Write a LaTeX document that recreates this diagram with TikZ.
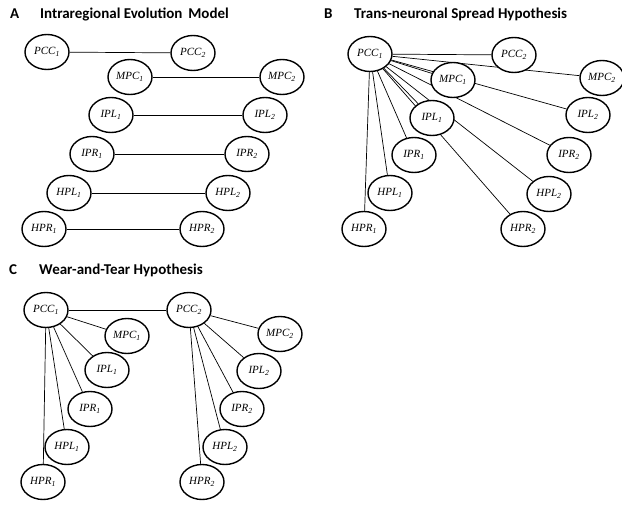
\documentclass[tikz,border=0pt]{standalone}
\usepackage{fontspec}
\setmainfont{Liberation Serif}
\newfontfamily\titlefont{Carlito}
\usetikzlibrary{shapes.geometric}
\usetikzlibrary{backgrounds}
\newcommand{\rname}[2]{\textit{#1}\textsubscript{\textit{#2}}}
\newcommand{\panelletter}[1]{\makebox[30pt][l]{#1}}
\tikzset{
  region/.style={ellipse, draw, line width=1.4pt, fill=white, inner sep=0pt,
    minimum width=44pt, minimum height=35pt, font=\fontsize{11}{13}\selectfont},
  link/.style={line width=0.7pt},
  paneltitle/.style={anchor=west, inner sep=0pt, font=\titlefont\bfseries\fontsize{15}{17}\selectfont}
}

\begin{document}
\begin{tikzpicture}[x=1pt, y=-1pt]
      \useasboundingbox (0,0) rectangle (622,506);

      % A
      \node[paneltitle] (titleA) at (10,14) {\panelletter{A}Intraregional Evolution\, Model};
      \node[region] (aPCC1) at (47,52) {\rname{PCC}{1}};
      \node[region] (aPCC2) at (193,53) {\rname{PCC}{2}};
      \node[region] (aMPC1) at (130,77) {\rname{MPC}{1}};
      \node[region] (aMPC2) at (282,77) {\rname{MPC}{2}};
      \node[region] (aIPL1) at (111,115) {\rname{IPL}{1}};
      \node[region] (aIPL2) at (265,115) {\rname{IPL}{2}};
      \node[region] (aIPR1) at (92,154) {\rname{IPR}{1}};
      \node[region] (aIPR2) at (247,154) {\rname{IPR}{2}};
      \node[region] (aHPL1) at (69,193) {\rname{HPL}{1}};
      \node[region] (aHPL2) at (228,193) {\rname{HPL}{2}};
      \node[region] (aHPR1) at (44,229) {\rname{HPR}{1}};
      \node[region] (aHPR2) at (202,229) {\rname{HPR}{2}};

      \begin{scope}[on background layer]
        \draw[link] (aPCC1) -- (aPCC2);
        \draw[link] (aMPC1) -- (aMPC2);
        \draw[link] (aIPL1) -- (aIPL2);
        \draw[link] (aIPR1) -- (aIPR2);
        \draw[link] (aHPL1) -- (aHPL2);
        \draw[link] (aHPR1) -- (aHPR2);
      \end{scope}

      % B
      \node[paneltitle] (titleB) at (324,14) {\panelletter{B}Trans-neuronal Spread Hypothesis};
      \node[region] (bPCC1) at (370,54) {\rname{PCC}{1}};
      \node[region] (bPCC2) at (514,55) {\rname{PCC}{2}};
      \node[region] (bMPC1) at (453,80) {\rname{MPC}{1}};
      \node[region] (bMPC2) at (602,78) {\rname{MPC}{2}};
      \node[region] (bIPL1) at (432,118) {\rname{IPL}{1}};
      \node[region] (bIPL2) at (588,115) {\rname{IPL}{2}};
      \node[region] (bIPR1) at (414,155) {\rname{IPR}{1}};
      \node[region] (bIPR2) at (569,155) {\rname{IPR}{2}};
      \node[region] (bHPL1) at (390,193) {\rname{HPL}{1}};
      \node[region] (bHPL2) at (549,194) {\rname{HPL}{2}};
      \node[region] (bHPR1) at (364,229) {\rname{HPR}{1}};
      \node[region] (bHPR2) at (523,229) {\rname{HPR}{2}};

      \begin{scope}[on background layer]
        \foreach \t in {PCC2,MPC1,MPC2,IPL1,IPL2,IPR1,IPR2,HPL1,HPL2,HPR1,HPR2}
          \draw[link] (bPCC1) -- (b\t);
      \end{scope}

      % C
      \node[paneltitle] (titleC) at (9,270) {\panelletter{C}Wear-and-Tear Hypothesis};
      \node[region] (cPCC1) at (46,310) {\rname{PCC}{1}};
      \node[region] (cPCC2) at (189,310) {\rname{PCC}{2}};
      \node[region] (cMPC1) at (127,336) {\rname{MPC}{1}};
      \node[region] (cMPC2) at (280,334) {\rname{MPC}{2}};
      \node[region] (cIPL1) at (107,370) {\rname{IPL}{1}};
      \node[region] (cIPL2) at (259,371) {\rname{IPL}{2}};
      \node[region] (cIPR1) at (90,409) {\rname{IPR}{1}};
      \node[region] (cIPR2) at (242,409) {\rname{IPR}{2}};
      \node[region] (cHPL1) at (67,447) {\rname{HPL}{1}};
      \node[region] (cHPL2) at (225,447) {\rname{HPL}{2}};
      \node[region] (cHPR1) at (43,482) {\rname{HPR}{1}};
      \node[region] (cHPR2) at (202,482) {\rname{HPR}{2}};

      \begin{scope}[on background layer]
        \draw[link] (cPCC1) -- (cPCC2);
        \foreach \t in {MPC,IPL,IPR,HPL,HPR} {
          \draw[link] (cPCC1) -- (c\t 1);
          \draw[link] (cPCC2) -- (c\t 2);
        }
      \end{scope}
    \end{tikzpicture}
\end{document}
